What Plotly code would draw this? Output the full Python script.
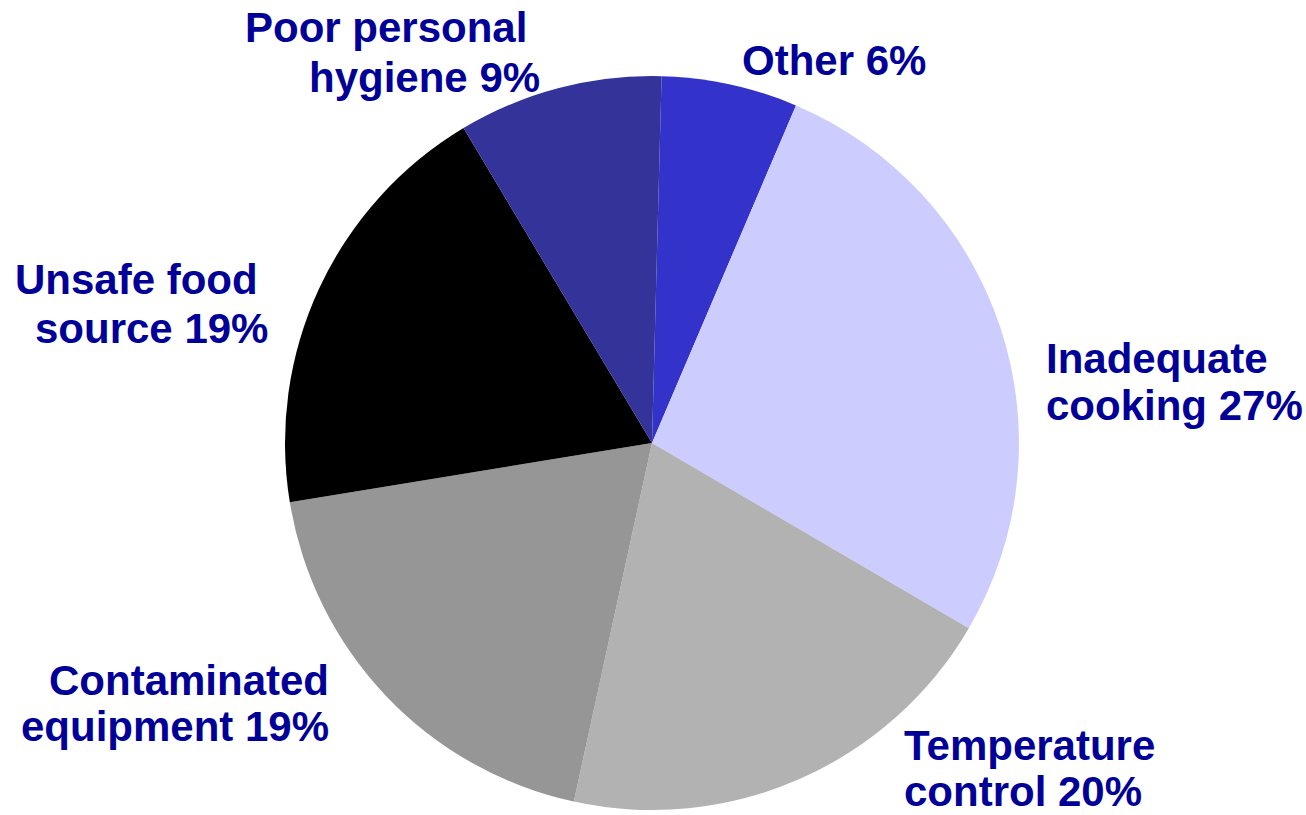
import plotly.graph_objects as go

# Data (clockwise from 12 o'clock)
categories = ["Other", "Inadequate cooking", "Temperature control",
              "Contaminated equipment", "Unsafe food source", "Poor personal hygiene"]
values = [6, 27, 20, 19, 19, 9]
colors = ["#3333CC", "#CCCCFF", "#B2B2B2", "#969696", "#000000", "#333399"]

# label lines per category
label_lines = [
    ["Other"],
    ["Inadequate", "cooking"],
    ["Temperature", "control"],
    ["Contaminated", "equipment"],
    ["Unsafe food", "source"],
    ["Poor personal", "hygiene"],
]

W, H = 1306, 815
TEXT_COLOR = "#000099"
FS = 42

cx, cy, r = 652, 443, 367

fig = go.Figure(go.Pie(
    labels=categories,
    values=values,
    marker=dict(colors=colors, line=dict(width=0)),
    sort=False,
    direction="clockwise",
    rotation=1.5,
    textinfo="none",
    hoverinfo="label+percent",
    showlegend=False,
    domain=dict(x=[(cx - r) / W, (cx + r) / W],
                y=[1 - (cy + r) / H, 1 - (cy - r) / H]),
))

# label placement per line (x anchor px, baseline px, xanchor) in page pixels
placement = [
    [(740, 75, "left")],
    [(1044, 373, "left"), (1044, 420, "left")],
    [(902, 760, "left"), (902, 806, "left")],
    [(331, 695, "right"), (331, 741, "right")],
    [(13, 294, "left"), (33, 343, "left")],
    [(243, 42, "left"), (307, 92, "left")],
]

annotations = []
for cat_lines, val, pos in zip(label_lines, values, placement):
    lines = list(cat_lines)
    lines[-1] = f"{lines[-1]} {val}%"
    for txt, (px, base, xa) in zip(lines, pos):
        annotations.append(dict(
            x=px / W, y=1 - (base - 0.3465 * FS) / H,
            xref="paper", yref="paper",
            xanchor=xa, yanchor="middle",
            text=f"<b>{txt}</b>", showarrow=False,
            font=dict(family="Liberation Sans, Arial, sans-serif", size=FS, color=TEXT_COLOR),
        ))

fig.update_layout(
    width=W, height=H,
    margin=dict(l=0, r=0, t=0, b=0),
    paper_bgcolor="white", plot_bgcolor="white",
    annotations=annotations,
)

fig.write_html("out.html",
               config={"displayModeBar": False},
               post_script="document.body.style.margin='0';document.body.style.overflow='hidden';")
